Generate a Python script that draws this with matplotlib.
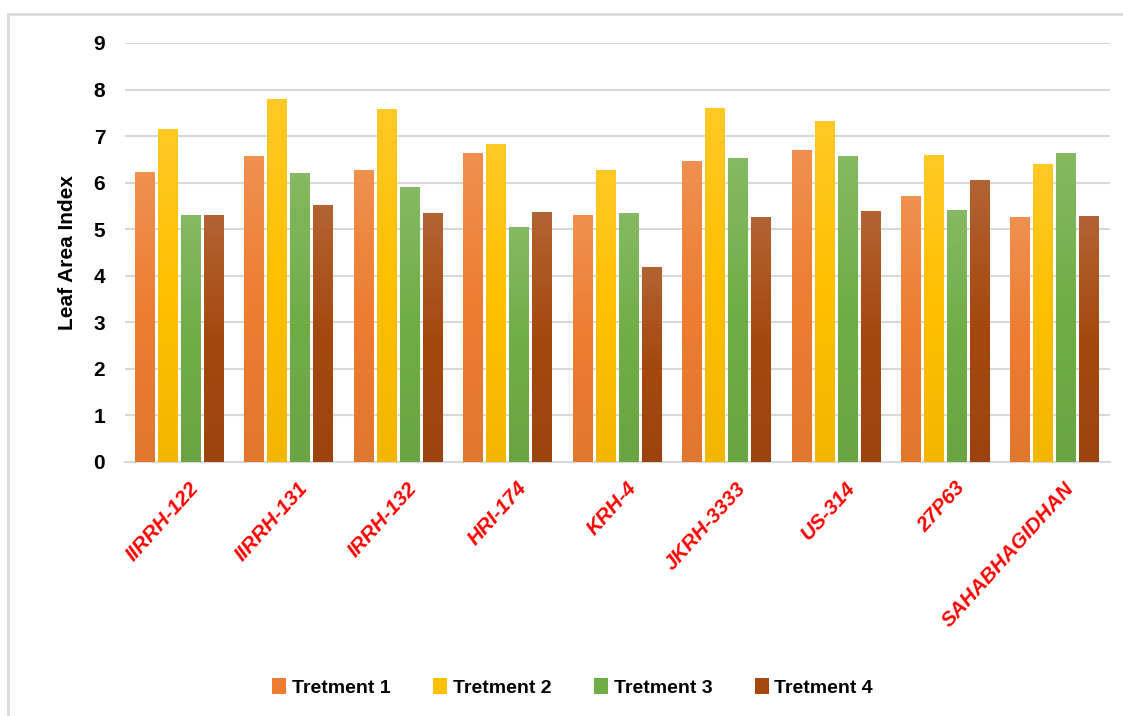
import numpy as np
import matplotlib
matplotlib.use('Agg')
import matplotlib.pyplot as plt
from matplotlib.colors import LinearSegmentedColormap, to_rgb
from matplotlib.patches import Rectangle

VARIETIES = ['IIRRH-122', 'IIRRH-131', 'IRRH-132', 'HRI-174', 'KRH-4',
             'JKRH-3333', 'US-314', '27P63', 'SAHABHAGIDHAN']
SERIES = ['Tretment 1', 'Tretment 2', 'Tretment 3', 'Tretment 4']
T1 = [6.23, 6.58, 6.26, 6.63, 5.31, 6.47, 6.69, 5.71, 5.25]
T2 = [7.16, 7.79, 7.58, 6.83, 6.28, 7.60, 7.33, 6.59, 6.39]
T3 = [5.31, 6.21, 5.90, 5.05, 5.34, 6.52, 6.58, 5.41, 6.63]
T4 = [5.30, 5.51, 5.35, 5.37, 4.19, 5.27, 5.38, 6.06, 5.29]
Y_TICKS = list(range(0, 10))

COLORS = ['#ED7D31', '#FFC000', '#70AD47', '#A5480F']

plt.rcParams['font.family'] = ['Liberation Sans', 'DejaVu Sans']


def shade(color, amount):
    """Mix a colour towards white (amount > 0) or black (amount < 0)."""
    c = np.array(to_rgb(color))
    if amount > 0:
        return tuple(c + (1 - c) * amount)
    return tuple(c * (1 + amount))


def gradient_bar(ax, bar, color):
    # light at the top, slightly darker at the base
    cmap = LinearSegmentedColormap.from_list('g', [shade(color, -0.05), color, shade(color, 0.15)])
    x0, y0 = bar.get_x(), bar.get_y()
    w, h = bar.get_width(), bar.get_height()
    grad = np.linspace(0, 1, 256).reshape(-1, 1)
    im = ax.imshow(grad, cmap=cmap, origin='lower', aspect='auto',
                   extent=(x0, x0 + w, y0, y0 + h), zorder=3)
    im.set_clip_path(bar)


fig = plt.figure(figsize=(11.23, 7.16), dpi=100)
ax = fig.add_axes([0.111, 0.355, 0.877, 0.585])

x = np.arange(len(VARIETIES))
width = 0.18
step = 0.21
for i, (vals, name, color) in enumerate(zip([T1, T2, T3, T4], SERIES, COLORS)):
    bars = ax.bar(x + (i - 1.5) * step, vals, width, color=color, label=name, zorder=2)
    for b in bars:
        gradient_bar(ax, b, color)

ax.set_xlim(-0.5, len(VARIETIES) - 0.5)
ax.set_ylim(0, 9)
ax.set_yticks(Y_TICKS)
ax.set_yticklabels([str(t) for t in Y_TICKS], fontsize=15, fontweight='bold')
ax.yaxis.grid(True, color='#D9D9D9', linewidth=1.5, zorder=0)
ax.set_axisbelow(True)
for s in ['top', 'right', 'left']:
    ax.spines[s].set_visible(False)
ax.spines['bottom'].set_color('#D9D9D9')
ax.spines['bottom'].set_linewidth(1.5)
ax.tick_params(axis='both', length=0, pad=14)

ax.set_xticks(x + 0.08)
ax.set_xticklabels(VARIETIES, rotation=48, ha='right', rotation_mode='anchor',
                   color='#FF0000', fontsize=15, fontweight='bold', style='italic')
ax.tick_params(axis='x', pad=12)
ax.set_ylabel('Leaf Area Index', fontsize=15, fontweight='bold', labelpad=12)

handles, labels = ax.get_legend_handles_labels()
fig.legend(handles, labels, loc='center', bbox_to_anchor=(0.51, 0.04), ncol=4,
           frameon=False, prop={'size': 14, 'weight': 'bold'},
           handlelength=0.7, handleheight=0.9, handletextpad=0.3, columnspacing=2.2)

# light frame round the chart area
fig.patches.append(Rectangle((0.007, -0.01), 1.1, 0.99, transform=fig.transFigure,
                             fill=False, edgecolor='#D9D9D9', linewidth=2))

fig.savefig('out.png', dpi=100)
plt.close()
